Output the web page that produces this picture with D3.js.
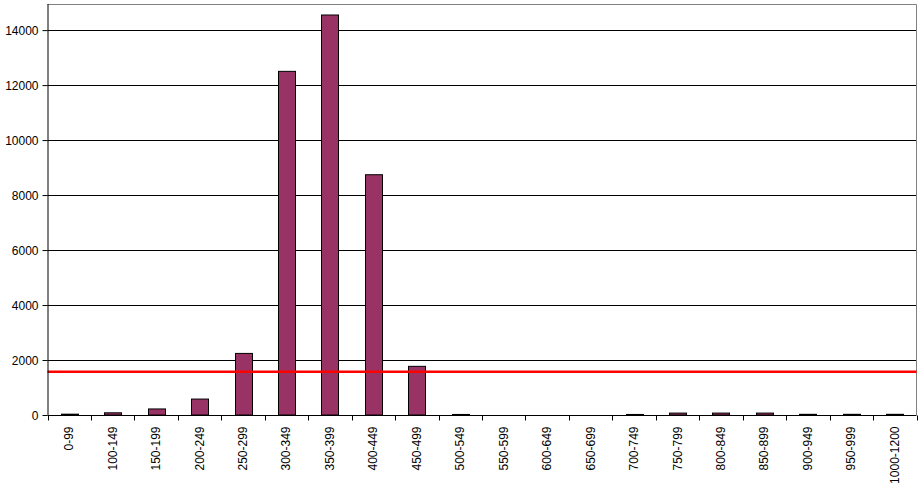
<!DOCTYPE html>
<html><head><meta charset="utf-8">
<script src="https://cdn.jsdelivr.net/npm/d3@7"></script>
<style>body{margin:0;background:#fff}svg{display:block}text{font-family:"Liberation Sans",Arial,sans-serif;font-size:12px;fill:#000}</style>
</head><body><svg id="c" width="919" height="488"></svg>
<script>
const categories = ["0-99","100-149","150-199","200-249","250-299","300-349","350-399","400-449","450-499","500-549","550-599","600-649","650-699","700-749","750-799","800-849","850-899","900-949","950-999","1000-1200"];
const values = [30,80,220,580,2240,12500,14550,8740,1770,20,0,0,0,20,70,70,70,25,25,25];
const yTicks = [0,2000,4000,6000,8000,10000,12000,14000];
const threshold = 1570;
const yMax = 14950;

const svg = d3.select("#c");
const m = {left:47.5, right:916.5, top:4, bottom:415};
const x = d3.scaleBand().domain(categories).range([m.left, m.right]).paddingInner(0.6).paddingOuter(0.3);
const xb = d3.scaleBand().domain(categories).range([m.left, m.right]);
const y = d3.scaleLinear().domain([0, yMax]).range([m.bottom, m.top]);

// gridlines
svg.append("g").selectAll("line").data(yTicks.filter(d=>d>0)).join("line")
  .attr("x1", m.left).attr("x2", m.right)
  .attr("y1", d=>Math.round(y(d))+0.5).attr("y2", d=>Math.round(y(d))+0.5)
  .attr("stroke","#000").attr("stroke-width",1);
// frame top/right
svg.append("path").attr("d", `M${m.left},${m.top+0.5}H${m.right}V${m.bottom}`)
  .attr("fill","none").attr("stroke","#808080");

// bars
svg.append("g").selectAll("rect").data(values).join("rect")
  .attr("x", (d,i)=>Math.round(xb(categories[i]) + xb.bandwidth()/2 - 8.5)+0.5)
  .attr("width", 17)
  .attr("y", d=>y(d)).attr("height", d=>Math.max(0, y(0)-y(d)))
  .attr("fill","#993366").attr("stroke","#000").attr("stroke-width",1)
  .attr("display", d=>d>0?null:"none");

// threshold line
svg.append("line").attr("x1", m.left).attr("x2", m.right)
  .attr("y1", y(threshold)).attr("y2", y(threshold))
  .attr("stroke","#ff0000").attr("stroke-width",2.5);

// y axis
const yAxis = d3.axisLeft(y).tickValues(yTicks).tickSize(5).tickPadding(4).tickFormat(d3.format("d"));
const gy = svg.append("g").attr("transform",`translate(${m.left},0)`).call(yAxis);
gy.selectAll("text").style("font-size","12px").style("font-family","Liberation Sans, Arial").attr("dy","0.35em");
gy.select(".domain").attr("d", `M0.5,${m.top}V${m.bottom}`).attr("stroke","#000");
gy.selectAll(".tick line").attr("stroke","#000");

// x axis
const gx = svg.append("g").attr("transform",`translate(0,${Math.round(m.bottom)+0.5})`);
gx.append("line").attr("x1", m.left).attr("x2", m.right).attr("stroke","#000");
const bounds = categories.map(c=>xb(c)).concat([m.right]);
gx.selectAll("line.t").data(bounds).join("line").attr("class","t")
  .attr("x1", d=>Math.round(d)+0.5).attr("x2", d=>Math.round(d)+0.5).attr("y1",0).attr("y2",5).attr("stroke","#000");
gx.selectAll("text").data(categories).join("text")
  .attr("transform", d=>`translate(${xb(d)+xb.bandwidth()/2+4},11) rotate(-90)`)
  .attr("text-anchor","end").text(d=>d);
</script></body></html>
